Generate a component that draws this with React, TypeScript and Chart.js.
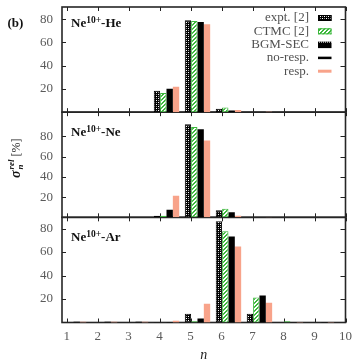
import React, { useEffect, useRef } from 'react';
import { Chart, registerables } from 'chart.js';

Chart.register(...registerables);

// ---------------- data ----------------
const nValues = [1, 2, 3, 4, 5, 6, 7, 8, 9, 10];
const xTickLabels = ['1', '2', '3', '4', '5', '6', '7', '8', '9', '10'];
const yTickValues = [20, 40, 60, 80];
const yTickLabels = ['20', '40', '60', '80'];

const legendLabels = ['expt. [2]', 'CTMC [2]', 'BGM-SEC', 'no-resp.', 'resp.'];
const barLabels = ['expt. [2]', 'CTMC [2]', 'BGM-SEC', 'resp.'];

const panelIons = ['Ne', 'Ne', 'Ne'];
const panelCharges = ['10+', '10+', '10+'];
const panelTargets = ['He', 'Ne', 'Ar'];
const panelYMax = [90.5, 104, 89.6];

// Ne10+ - He
const heExpt = [null, null, null, 18.5, 79, 3, null, null, null, null];
const heCtmc = [null, null, null, 16.4, 78.4, 4, null, null, null, null];
const heBgm = [null, null, null, 20.2, 77.5, 1.5, null, null, null, null];
const heResp = [null, null, null, 21.8, 75.6, 1.8, 0.4, null, null, null];

// Ne10+ - Ne
const neExpt = [null, null, null, 1.5, 92, 7, null, null, null, null];
const neCtmc = [null, null, null, 1.5, 89.4, 8.4, null, null, null, null];
const neBgm = [null, null, null, 7.6, 87, 5, null, null, null, null];
const neResp = [null, null, null, 21.4, 76, 1.6, 0.4, null, null, null];

// Ne10+ - Ar
const arExpt = [null, null, null, 0.4, 7.5, 86.3, 7.4, null, null, null];
const arCtmc = [null, null, null, null, 1, 77.8, 21.4, 1, null, null];
const arBgm = [0.6, 0.6, 0.6, 0.4, 3.4, 73.2, 23.1, 0.3, 0.5, null];
const arResp = [0.6, 0.6, 0.6, 1.4, 16, 64.7, 16.8, 0.5, 0.5, null];

// ---------------- styles ----------------
const FONT = '"Liberation Serif", "Times New Roman", serif';
const TICK_COLOR = '#5a5a5a';
const LEGEND_COLOR = '#505050';
const RESP_COLOR = '#f8a38a';
const CTMC_GREEN = '#3cb83c';
const barOffsets = [-0.085, 0.12, 0.325, 0.53];
const axisIds = ['yHe', 'yNe', 'yAr'];
const labelDrop = [19.5, 23.8, 23.5];

function makePattern(kind: string): CanvasPattern | string {
  const c = document.createElement('canvas');
  c.width = 4;
  c.height = 4;
  const g = c.getContext('2d');
  if (!g) return '#000';
  if (kind === 'checker') {
    g.fillStyle = '#000';
    g.fillRect(0, 0, 4, 4);
    g.fillStyle = '#ffffff';
    g.fillRect(0, 0, 1, 1);
    g.fillRect(2, 2, 1, 1);
    g.fillStyle = '#9a9a9a';
    g.fillRect(2, 0, 1, 1);
    g.fillRect(0, 2, 1, 1);
  } else {
    g.fillStyle = '#ffffff';
    g.fillRect(0, 0, 4, 4);
    g.fillStyle = CTMC_GREEN;
    for (let x = 0; x < 4; x++) {
      for (let y = 0; y < 4; y++) {
        if ((x + y) % 4 === 0 || (x + y) % 4 === 1) g.fillRect(x, y, 1, 1);
      }
    }
  }
  const p = g.createPattern(c, 'repeat');
  return p || '#000';
}

function drawPanelLabel(ctx: CanvasRenderingContext2D, x: number, y: number, p: number) {
  ctx.fillStyle = '#111';
  ctx.textAlign = 'left';
  ctx.textBaseline = 'alphabetic';
  ctx.font = `bold 13px ${FONT}`;
  ctx.fillText(panelIons[p], x, y);
  let w = ctx.measureText(panelIons[p]).width;
  ctx.font = `bold 9.5px ${FONT}`;
  ctx.fillText(panelCharges[p], x + w, y - 3.5);
  w += ctx.measureText(panelCharges[p]).width;
  ctx.font = `bold 13px ${FONT}`;
  ctx.fillText('-' + panelTargets[p], x + w, y);
}

export default function App() {
  const ref = useRef<HTMLCanvasElement>(null);

  useEffect(() => {
    document.body.style.margin = '0';
    const canvas = ref.current;
    if (!canvas) return;

    const checker = makePattern('checker');
    const hatch = makePattern('hatch');

    const barStyles = [
      { bg: checker, border: '#000', bw: 1 },
      { bg: hatch, border: CTMC_GREEN, bw: 1 },
      { bg: '#000', border: '#000', bw: 0 },
      { bg: RESP_COLOR, border: RESP_COLOR, bw: 0 },
    ];

    const panelSeries = [
      [heExpt, heCtmc, heBgm, heResp],
      [neExpt, neCtmc, neBgm, neResp],
      [arExpt, arCtmc, arBgm, arResp],
    ];

    const datasets: any[] = [];
    panelSeries.forEach((series, p) => {
      series.forEach((arr, s) => {
        datasets.push({
          type: 'bar',
          label: barLabels[s],
          data: nValues
            .map((n, i) => ({ x: n + barOffsets[s], y: arr[i] }))
            .filter((d) => d.y !== null),
          yAxisID: axisIds[p],
          xAxisID: 'x',
          grouped: false,
          barPercentage: 1,
          categoryPercentage: 1,
          backgroundColor: barStyles[s].bg,
          borderColor: barStyles[s].border,
          borderWidth: barStyles[s].bw,
          borderSkipped: false,
          inflateAmount: 0,
        });
      });
    });

    const yScale = (p: number) => ({
      type: 'linear',
      position: 'left',
      stack: 'panels',
      stackWeight: 1,
      weight: 3 - p,
      min: 0,
      max: panelYMax[p],
      grid: { display: false, drawTicks: false },
      border: { display: false },
      ticks: {
        padding: 9,
        color: TICK_COLOR,
        font: { family: FONT, size: 13 },
        callback: (v: any) => {
          const k = yTickValues.indexOf(Number(v));
          return k >= 0 ? yTickLabels[k] : '';
        },
      },
      afterBuildTicks: (s: any) => {
        s.ticks = yTickValues.map((v) => ({ value: v }));
      },
      afterFit: (s: any) => {
        s.width = 62;
        s.paddingTop = 0;
        s.paddingBottom = 0;
        s.paddingLeft = 0;
        s.paddingRight = 0;
      },
    });

    const line = (ctx: CanvasRenderingContext2D, x1: number, y1: number, x2: number, y2: number) => {
      ctx.beginPath();
      ctx.moveTo(x1, y1);
      ctx.lineTo(x2, y2);
      ctx.stroke();
    };

    const decor = {
      id: 'decor',
      beforeDatasetsDraw(chart: any) {
        const ctx: CanvasRenderingContext2D = chart.ctx;
        const xs = chart.scales.x;
        const { left, right } = chart.chartArea;
        ctx.save();
        axisIds.forEach((id) => {
          const ys = chart.scales[id];
          const top = ys.top;
          const bottom = ys.bottom;
          ctx.strokeStyle = '#222';
          ctx.lineWidth = 1;
          yTickValues.forEach((v) => {
            const py = Math.round(ys.getPixelForValue(v)) + 0.5;
            line(ctx, left, py, left + 4, py);
            line(ctx, right - 5, py, right, py);
          });
          nValues.forEach((v) => {
            const px = Math.round(xs.getPixelForValue(v)) + 0.5;
            line(ctx, px, bottom, px, bottom - 4);
            line(ctx, px, top, px, top + 4);
          });
          ctx.strokeStyle = '#262626';
          ctx.lineWidth = 1.6;
          ctx.strokeRect(left, top, right - left, bottom - top);
        });
        ctx.restore();
      },
      afterDraw(chart: any) {
        const ctx: CanvasRenderingContext2D = chart.ctx;
        const area = chart.chartArea;
        ctx.save();

        // panel tag
        ctx.fillStyle = '#111';
        ctx.font = `bold 13px ${FONT}`;
        ctx.textAlign = 'left';
        ctx.textBaseline = 'alphabetic';
        ctx.fillText('(b)', 7.5, 26.5);

        // panel labels
        axisIds.forEach((id, p) => {
          const s = chart.scales[id];
          drawPanelLabel(ctx, area.left + 9, s.top + labelDrop[p], p);
        });

        // legend
        const rowsY = [18, 31.3, 44.6, 57.9, 71.2];
        const textRight = 309;
        const symX = 318;
        const symW = 13.5;
        ctx.font = `13px ${FONT}`;
        ctx.fillStyle = LEGEND_COLOR;
        ctx.textAlign = 'right';
        ctx.textBaseline = 'middle';
        legendLabels.forEach((t, i) => ctx.fillText(t, textRight, rowsY[i]));

        // expt symbol
        ctx.fillStyle = checker as any;
        ctx.fillRect(symX, rowsY[0] - 3, symW, 6);
        ctx.strokeStyle = '#000';
        ctx.lineWidth = 1;
        ctx.strokeRect(symX + 0.5, rowsY[0] - 2.5, symW - 1, 5);
        // CTMC symbol
        ctx.fillStyle = hatch as any;
        ctx.fillRect(symX, rowsY[1] - 3, symW, 6);
        ctx.strokeStyle = CTMC_GREEN;
        ctx.strokeRect(symX + 0.5, rowsY[1] - 2.5, symW - 1, 5);
        // BGM-SEC symbol
        ctx.fillStyle = '#000';
        ctx.fillRect(symX, rowsY[2] - 3, symW, 6.5);
        ctx.fillStyle = '#ffffff';
        for (let k = 1; k < symW; k += 2) ctx.fillRect(symX + k, rowsY[2] - 3, 1, 1);
        // no-resp symbol
        ctx.strokeStyle = '#000';
        ctx.lineWidth = 2.5;
        line(ctx, symX, rowsY[3], symX + symW, rowsY[3]);
        // resp symbol
        ctx.strokeStyle = RESP_COLOR;
        ctx.lineWidth = 3;
        line(ctx, symX, rowsY[4], symX + symW, rowsY[4]);

        // y title
        ctx.save();
        ctx.translate(19.5, 178);
        ctx.rotate(-Math.PI / 2);
        ctx.fillStyle = '#111';
        ctx.textAlign = 'left';
        ctx.textBaseline = 'alphabetic';
        ctx.font = `bold italic 14px ${FONT}`;
        ctx.fillText('σ', 0, 0);
        const sw = ctx.measureText('σ').width;
        ctx.font = `bold italic 9px ${FONT}`;
        ctx.fillText('rel', sw + 1, -5.5);
        const rw = ctx.measureText('rel').width;
        ctx.fillText('n', sw + 1, 3);
        ctx.font = `12px ${FONT}`;
        ctx.fillText('[%]', sw + rw + 4, 0);
        ctx.restore();

        // x title
        ctx.fillStyle = '#222';
        ctx.font = `italic 14px ${FONT}`;
        ctx.textAlign = 'center';
        ctx.textBaseline = 'alphabetic';
        ctx.fillText('n', (area.left + area.right) / 2, 359);

        ctx.restore();
      },
    };

    const chart = new Chart(canvas, {
      type: 'bar',
      data: { datasets },
      options: {
        responsive: false,
        animation: false,
        devicePixelRatio: 1,
        layout: { padding: { left: 0, right: 7.5, top: 7, bottom: 0 } },
        plugins: {
          legend: { display: false },
          tooltip: { enabled: false },
          title: { display: false },
        },
        scales: {
          x: {
            type: 'linear',
            position: 'bottom',
            min: 0.85,
            max: 10,
            offset: false,
            grid: { display: false, drawTicks: false },
            border: { display: false },
            ticks: {
              padding: 6,
              color: TICK_COLOR,
              font: { family: FONT, size: 13 },
              maxRotation: 0,
              autoSkip: false,
              callback: (v: any) => {
                const k = nValues.indexOf(Number(v));
                return k >= 0 ? xTickLabels[k] : '';
              },
            },
            afterBuildTicks: (s: any) => {
              s.ticks = nValues.map((v) => ({ value: v }));
            },
            afterFit: (s: any) => {
              s.height = 38.5;
              s.paddingLeft = 0;
              s.paddingRight = 0;
              s.paddingTop = 0;
              s.paddingBottom = 0;
            },
          },
          yAr: yScale(2),
          yNe: yScale(1),
          yHe: yScale(0),
        } as any,
      },
      plugins: [decor],
    } as any);

    return () => chart.destroy();
  }, []);

  return (
    <div style={{ position: 'absolute', left: 0, top: 0, width: 353, height: 361 }}>
      <canvas ref={ref} width={353} height={361} style={{ display: 'block', width: 353, height: 361 }} />
    </div>
  );
}
